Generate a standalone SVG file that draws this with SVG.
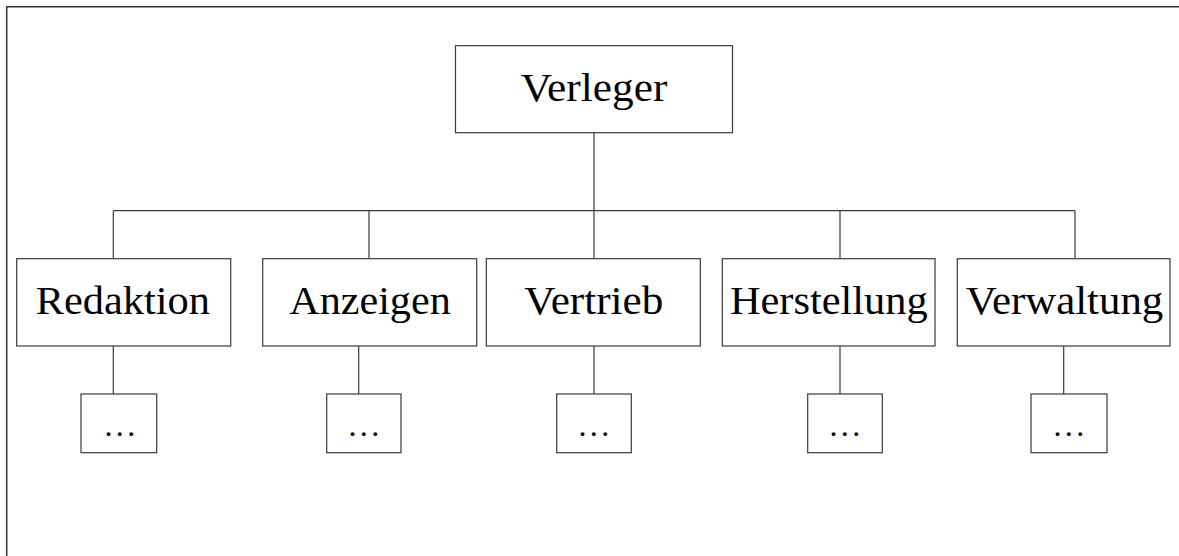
<svg xmlns="http://www.w3.org/2000/svg" width="1179" height="556" viewBox="0 0 1179 556">
<style>
.box{fill:#fff;stroke:#3a3a3a;stroke-width:1.2}
.ln{fill:none;stroke:#3a3a3a;stroke-width:1.2}
.lbl{font-family:"Liberation Serif","Times New Roman",serif;font-size:39px;fill:#000;text-anchor:middle}
.dots{font-family:"Liberation Serif","Times New Roman",serif;font-size:32px;fill:#000;text-anchor:middle;letter-spacing:3.3px}
</style>
<rect x="0" y="0" width="1179" height="556" fill="#fff"/>
<path d="M6.7,556 V6.7 H1179" fill="none" stroke="#333" stroke-width="1.5"/>
<g id="connectors" class="ln">
<line x1="594" y1="132.7" x2="594" y2="210.7"/>
<line x1="113.3" y1="210.7" x2="1075" y2="210.7"/>
<line x1="113.3" y1="210.7" x2="113.3" y2="258.7"/>
<line x1="369" y1="210.7" x2="369" y2="258.7"/>
<line x1="594" y1="210.7" x2="594" y2="258.7"/>
<line x1="840" y1="210.7" x2="840" y2="258.7"/>
<line x1="1075" y1="210.7" x2="1075" y2="258.7"/>
<line x1="113.3" y1="346" x2="113.3" y2="394"/>
<line x1="358.7" y1="346" x2="358.7" y2="394"/>
<line x1="594" y1="346" x2="594" y2="394"/>
<line x1="840" y1="346" x2="840" y2="394"/>
<line x1="1063.7" y1="346" x2="1063.7" y2="394"/>
</g>
<g id="verleger"><rect class="box" x="455.5" y="45.7" width="277" height="87"/><text class="lbl" x="594" y="100.5" textLength="146.7" lengthAdjust="spacingAndGlyphs">Verleger</text></g>
<g id="redaktion"><rect class="box" x="16.7" y="258.7" width="214" height="87.3"/><text class="lbl" x="122.8" y="314.3" textLength="174.3" lengthAdjust="spacingAndGlyphs">Redaktion</text></g>
<g id="anzeigen"><rect class="box" x="262.7" y="258.7" width="214" height="87.3"/><text class="lbl" x="370" y="314.3" textLength="161.4" lengthAdjust="spacingAndGlyphs">Anzeigen</text></g>
<g id="vertrieb"><rect class="box" x="486.3" y="258.7" width="214" height="87.3"/><text class="lbl" x="593.8" y="314.3" textLength="139" lengthAdjust="spacingAndGlyphs">Vertrieb</text></g>
<g id="herstellung"><rect class="box" x="722.3" y="258.7" width="212.7" height="87.3"/><text class="lbl" x="828.8" y="314.3" textLength="197.7" lengthAdjust="spacingAndGlyphs">Herstellung</text></g>
<g id="verwaltung"><rect class="box" x="957.3" y="258.7" width="212.7" height="87.3"/><text class="lbl" x="1064.5" y="314.3" textLength="197.6" lengthAdjust="spacingAndGlyphs">Verwaltung</text></g>
<g id="sub-redaktion"><rect class="box" x="81" y="394" width="75.7" height="58.7"/><text class="dots" x="121.5" y="436">...</text></g>
<g id="sub-anzeigen"><rect class="box" x="326.7" y="394" width="74.3" height="58.7"/><text class="dots" x="365.5" y="436">...</text></g>
<g id="sub-vertrieb"><rect class="box" x="556.7" y="394" width="74.6" height="58.7"/><text class="dots" x="595.5" y="436">...</text></g>
<g id="sub-herstellung"><rect class="box" x="807.7" y="394" width="74.6" height="58.7"/><text class="dots" x="846.5" y="436">...</text></g>
<g id="sub-verwaltung"><rect class="box" x="1031" y="394" width="76" height="58.7"/><text class="dots" x="1070.5" y="436">...</text></g>
</svg>
